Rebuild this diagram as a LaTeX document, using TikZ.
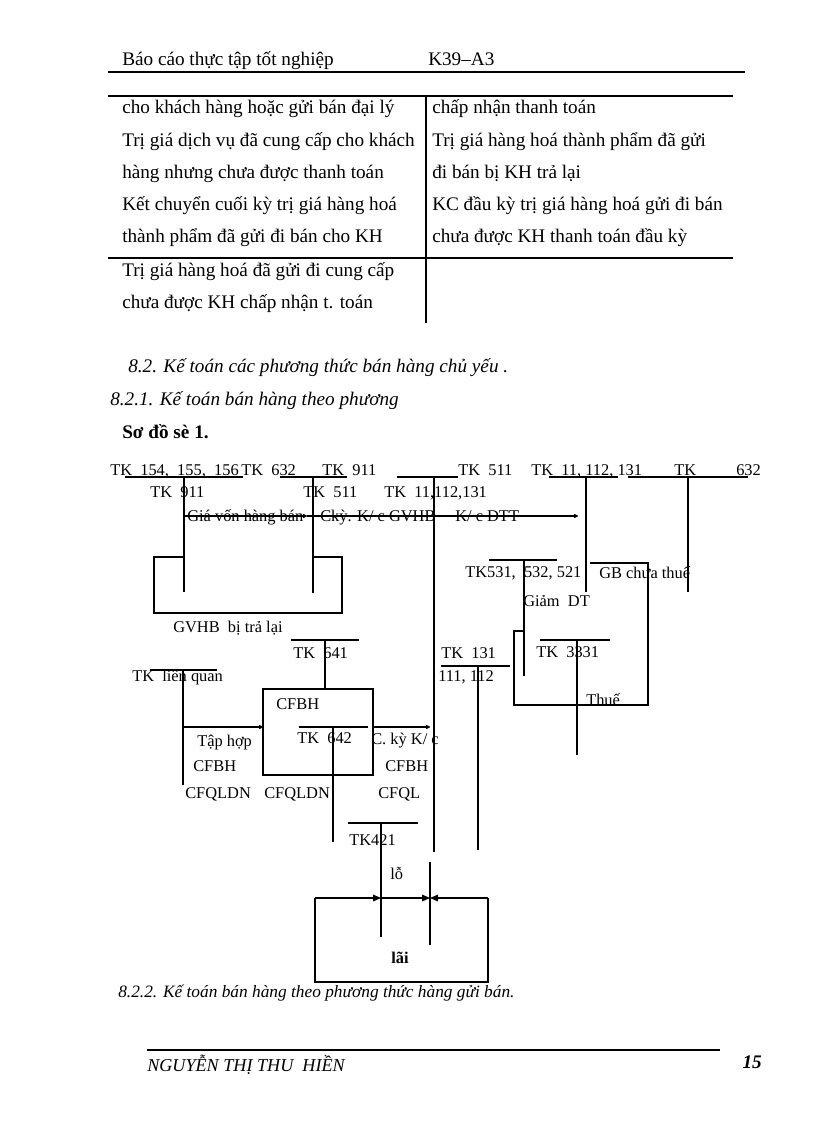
\documentclass[tikz,border=0pt]{standalone}
\usepackage{fontspec}
\setmainfont{Liberation Serif}
\usetikzlibrary{arrows.meta}
\begin{document}
\begin{tikzpicture}[x=0.75pt,y=-0.75pt,
  tx/.style={anchor=base west,inner sep=0pt,font=\fontsize{14.4}{17}\selectfont},
  dg/.style={anchor=base west,inner sep=0pt,font=\fontsize{12.3}{15}\selectfont},
  hd/.style={anchor=base west,inner sep=0pt,font=\fontsize{14.4}{17}\selectfont\itshape},
  ln/.style={line width=0.8pt},
  thick rule/.style={line width=1.6pt},
  sarr/.style={ln,-{To[length=3pt,width=3pt]}},
  barr/.style={ln,-{Triangle[length=6pt,width=5pt]}}]
\fill[white] (0,0) rectangle (816,1123);
\useasboundingbox (0,0) rectangle (816,1123);

% ---------- header ----------
\node[tx] (h1) at (122,66) {Báo cáo thực tập tốt nghiệp};
\node[tx] (h2) at (428,66) {K39–A3};
\coordinate (hl1) at (108,72); \coordinate (hl2) at (745,72);
\draw[thick rule] (hl1) -- (hl2);

% ---------- table ----------
\coordinate (t1a) at (108,96);  \coordinate (t1b) at (733,96);
\coordinate (t2a) at (426,96);  \coordinate (t2b) at (426,323);
\coordinate (t3a) at (108,258); \coordinate (t3b) at (733,258);
\draw[ln] (t1a) -- (t1b);
\draw[ln] (t2a) -- (t2b);
\draw[ln] (t3a) -- (t3b);
\node[tx] (l1) at (122,114) {cho khách hàng hoặc gửi bán đại lý};
\node[tx] (l2) at (122,147) {Trị giá  dịch vụ đã cung cấp cho khách};
\node[tx] (l3) at (122,179) {hàng nhưng  chưa  được thanh toán};
\node[tx] (l4) at (122,211) {Kết chuyển  cuối kỳ trị giá  hàng hoá};
\node[tx] (l5) at (122,243) {thành phẩm đã gửi  đi bán cho KH};
\node[tx] (l6) at (122,276) {Trị giá  hàng hoá đã gửi đi cung cấp};
\node[tx] (l7) at (122,308) {chưa được KH chấp nhận t. toán};
\node[tx] (r1) at (432,114) {chấp nhận thanh toán};
\node[tx] (r2) at (432,147) {Trị giá  hàng hoá thành  phẩm đã gửi};
\node[tx] (r3) at (432,179) {đi bán bị KH trả lại};
\node[tx] (r4) at (432,211) {KC đầu kỳ trị giá hàng hoá gửi đi bán};
\node[tx] (r5) at (432,243) {chưa được KH thanh toán đầu kỳ};

% ---------- headings ----------
\node[hd] (s1) at (128,372) {8.2. Kế toán các phương thức bán hàng chủ yếu .};
\node[hd] (s2) at (110,405) {8.2.1. Kế toán bán hàng theo phương};
\node[tx,font=\fontsize{14.4}{17}\selectfont\bfseries] (s3) at (122,438) {Sơ đồ sè 1.};

% ---------- diagram: top row ----------
\node[dg] (a1) at (110,475) {TK\ \ 154,\ \ 155,\ \ 156};
\node[dg] (a2) at (241,475) {TK\ \ 632};
\node[dg] (a3) at (322,475) {TK\ \ 911};
\node[dg] (a4) at (458,475) {TK\ \ 511};
\node[dg] (a5) at (531,475) {TK\ \ 11,\ 112,\ 131};
\node[dg] (a6) at (674,475) {TK};
\node[dg] (a7) at (736,475) {632};
\node[dg] (b1) at (150,497) {TK\ \ 911};
\node[dg] (b2) at (303,497) {TK\ \ 511};
\node[dg] (b3) at (384,497) {TK\ \ 11,112,131};

\coordinate (u1a) at (125,477); \coordinate (u1b) at (243,477);
\coordinate (u2a) at (280,477); \coordinate (u2b) at (347,477);
\coordinate (u3a) at (397,477); \coordinate (u3b) at (458,477);
\coordinate (u4a) at (549,477); \coordinate (u4b) at (618,477);
\coordinate (u5a) at (628,477); \coordinate (u5b) at (748,477);
\draw[ln] (u1a) -- (u1b);
\draw[ln] (u2a) -- (u2b);
\draw[ln] (u3a) -- (u3b);
\draw[ln] (u4a) -- (u4b);
\draw[ln] (u5a) -- (u5b);

\coordinate (v1a) at (184,477); \coordinate (v1b) at (184,592);
\coordinate (v2a) at (313,477); \coordinate (v2b) at (313,593);
\coordinate (v3a) at (434,477); \coordinate (v3b) at (434,852);
\coordinate (v4a) at (586,477); \coordinate (v4b) at (586,592);
\coordinate (v5a) at (688,477); \coordinate (v5b) at (688,592);
\draw[ln] (v1a) -- (v1b);
\draw[ln] (v2a) -- (v2b);
\draw[ln] (v3a) -- (v3b);
\draw[ln] (v4a) -- (v4b);
\draw[ln] (v5a) -- (v5b);

% long arrow
\coordinate (k1) at (184,516); \coordinate (k2) at (307,516); \coordinate (k3) at (578,516);
\draw[sarr] (k1) -- (k2);
\draw[sarr] (k2) -- (k3);
\node[dg] (c1) at (187,521) {Giá  vốn hàng  bán};
\node[dg] (c2) at (320,521) {Ckỳ. K/ c GVHB};
\node[dg] (c3) at (455,521) {K/ c DTT};

% U box
\coordinate (ub1) at (184,557); \coordinate (ub2) at (154,557);
\coordinate (ub3) at (154,613); \coordinate (ub4) at (342,613);
\coordinate (ub5) at (342,557); \coordinate (ub6) at (313,557);
\draw[ln] (ub1) -- (ub2) -- (ub3) -- (ub4) -- (ub5) -- (ub6);
\node[dg] (g1) at (173,632) {GVHB\ \ bị trả lại};

% right middle
\node[dg] (m1) at (465,577) {TK531,\ \ 532, 521};
\node[dg] (m2) at (599,578) {GB chưa thuế};
\node[dg] (m3) at (523,606) {Giảm\ \ DT};
\coordinate (w1a) at (489,560); \coordinate (w1b) at (557,560);
\coordinate (w2a) at (524,560); \coordinate (w2b) at (524,676);
\draw[ln] (w1a) -- (w1b);
\draw[ln] (w2a) -- (w2b);
\coordinate (p1) at (590,563); \coordinate (p2) at (648,563);
\coordinate (p3) at (648,705); \coordinate (p4) at (514,705);
\coordinate (p5) at (514,631); \coordinate (p6) at (524,631);
\draw[ln] (p1) -- (p2) -- (p3) -- (p4) -- (p5) -- (p6);
\node[dg] (m4) at (586,705) {Thuế};

\node[dg] (m5) at (536,657) {TK\ \ 3331};
\coordinate (x1a) at (540,640); \coordinate (x1b) at (610,640);
\coordinate (x2a) at (577,640); \coordinate (x2b) at (577,755);
\draw[ln] (x1a) -- (x1b);
\draw[ln] (x2a) -- (x2b);

\node[dg] (m6) at (441,658) {TK\ \ 131};
\node[dg] (m7) at (438,681) {111, 112};
\coordinate (y1a) at (441,666); \coordinate (y1b) at (510,666);
\coordinate (y2a) at (478,666); \coordinate (y2b) at (478,850);
\draw[ln] (y1a) -- (y1b);
\draw[ln] (y2a) -- (y2b);

% left middle
\node[dg] (n1) at (293,658) {TK\ \ 641};
\coordinate (z1a) at (291,640); \coordinate (z1b) at (359,640);
\coordinate (z2a) at (325,640); \coordinate (z2b) at (325,689);
\draw[ln] (z1a) -- (z1b);
\draw[ln] (z2a) -- (z2b);

\coordinate (bx1) at (263,689); \coordinate (bx2) at (373,775);
\draw[ln] (bx1) rectangle (bx2);
\node[dg] (n2) at (276,709) {CFBH};

\node[dg] (n3) at (132,681) {TK\ \ liên quan};
\coordinate (q1a) at (150,670); \coordinate (q1b) at (217,670);
\coordinate (q2a) at (183,670); \coordinate (q2b) at (183,785);
\draw[ln] (q1a) -- (q1b);
\draw[ln] (q2a) -- (q2b);
\coordinate (q3a) at (183,727); \coordinate (q3b) at (263,727);
\draw[sarr] (q3a) -- (q3b);
\node[dg] (n4) at (197,746) {Tập hợp};
\node[dg] (n5) at (193,771) {CFBH};
\node[dg] (n6) at (185,798) {CFQLDN};
\node[dg] (n7) at (264,798) {CFQLDN};

\node[dg] (n8) at (297,743) {TK\ \ 642};
\coordinate (r1a) at (299,727); \coordinate (r1b) at (368,727);
\coordinate (r2a) at (333,727); \coordinate (r2b) at (333,842);
\draw[ln] (r1a) -- (r1b);
\draw[ln] (r2a) -- (r2b);
\coordinate (r3a) at (373,727); \coordinate (r3b) at (430,727);
\draw[sarr] (r3a) -- (r3b);
\node[dg] (n9) at (371,744) {C. kỳ K/ c};
\node[dg] (n10) at (385,771) {CFBH};
\node[dg] (n11) at (378,798) {CFQL};

% bottom
\node[dg] (o1) at (349,845) {TK421};
\coordinate (o1a) at (348,823); \coordinate (o1b) at (418,823);
\coordinate (o2a) at (381,823); \coordinate (o2b) at (381,937);
\draw[ln] (o1a) -- (o1b);
\draw[ln] (o2a) -- (o2b);
\coordinate (o3a) at (430,862); \coordinate (o3b) at (430,945);
\draw[ln] (o3a) -- (o3b);
\node[dg] (o2) at (390,879) {lỗ};

\coordinate (e1) at (315,898); \coordinate (e2) at (315,982);
\coordinate (e3) at (488,982); \coordinate (e4) at (488,898);
\coordinate (e5) at (381,898); \coordinate (e6) at (430,898);
\draw[ln] (e1) -- (e2) -- (e3) -- (e4);
\draw[barr] (e1) -- (e5);
\draw[barr] (e5) -- (e6);
\draw[barr] (e4) -- (e6);
\node[dg,font=\fontsize{12.3}{15}\selectfont\bfseries] (o3) at (391,963) {lãi};

\node[hd,font=\fontsize{13}{16}\selectfont\itshape] (s4) at (118,997) {8.2.2. Kế toán bán hàng theo phương thức hàng gửi bán.};

% ---------- footer ----------
\coordinate (f1) at (147,1050); \coordinate (f2) at (720,1050);
\draw[thick rule] (f1) -- (f2);
\node[hd,font=\fontsize{13.6}{16}\selectfont\itshape] (ft1) at (147,1071) {NGUYỄN THỊ THU\ \ HIỀN};
\node[hd,anchor=base east,font=\fontsize{14.4}{17}\selectfont\bfseries\itshape] (ft2) at (762,1068) {15};
\end{tikzpicture}
\end{document}
